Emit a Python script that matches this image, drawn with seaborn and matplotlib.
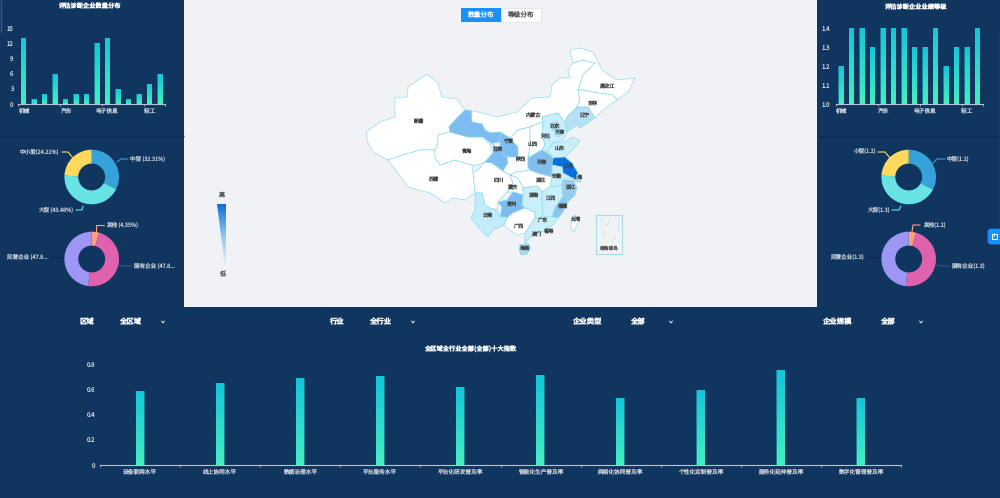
import numpy as np
import pandas as pd
import matplotlib
matplotlib.use("Agg")
import matplotlib.pyplot as plt
import seaborn as sns
from matplotlib.colors import LinearSegmentedColormap
from matplotlib.patches import FancyBboxPatch, Polygon, Rectangle

sns.set_theme(style="white")
plt.rcParams["font.family"] = ["Noto Sans CJK SC", "DejaVu Sans"]
plt.rcParams["text.hinting"] = "no_hinting"

W, H = 1000, 498
NAVY = "#10355f"
PAGE = "#f0f2f6"
TICK = "#c9d2dc"
AXIS = "#b9c4d0"

# top bar charts
industries = ["机械", "纺织", "化工", "建材", "汽车", "船舶", "航空", "食品",
              "电子信息", "医药", "冶金", "家电", "轻工", "其他"]
count_values = [13, 1, 2, 6, 1, 2, 2, 12, 13, 3, 1, 2, 4, 6]
level_values = [1.2, 1.4, 1.4, 1.3, 1.4, 1.4, 1.4, 1.3, 1.3, 1.4, 1.2, 1.3, 1.3, 1.4]
count_ticks = [0, 3, 6, 9, 12, 15]
level_ticks = [1.0, 1.1, 1.2, 1.3, 1.4]

# bottom bar chart
index_names = ["设备联网水平", "线上协同水平", "数据治理水平", "平台服务水平", "平台化研发普及率",
               "智能化生产普及率", "网络化协同普及率", "个性化定制普及率", "服务化延伸普及率", "数字化管理普及率"]
index_values = [0.586, 0.652, 0.686, 0.705, 0.615, 0.713, 0.533, 0.594, 0.752, 0.533]
index_ticks = [0, 0.2, 0.4, 0.6, 0.8]

# donuts
size_colors = ["#36a2dc", "#67e3e3", "#ffd95c"]
owner_colors = ["#ff9f7f", "#e062ae", "#9d96f5"]
owner_line_colors = ["#ff9f7f", "#3a5580", "#0b2a50"]
size_share = [32.31, 43.48, 24.21]
owner_share = [4.35, 47.83, 47.82]
size_share_r = [32.6, 43.2, 24.2]
owner_share_r = [4.4, 47.3, 48.3]
size_labels = ["中型 (32.31%)", "大型 (43.48%)", "中小型(24.21%)"]
owner_labels = ["其他 (4.35%)", "国有企业 (47.8...", "民营企业 (47.8..."]
size_labels_r = ["中型(1.2)", "大型(1.3)", "小型(1.2)"]
owner_labels_r = ["其他(1.2)", "国有企业(1.3)", "民营企业(1.3)"]

# map, outlines in picture pixels
province_names = ["新疆", "西藏", "青海", "四川", "内蒙古", "黑龙江", "吉林", "辽宁", "甘肃", "宁夏",
                  "陕西", "山西", "河北", "北京", "天津", "山东", "河南", "江苏", "安徽", "上海",
                  "湖北", "重庆", "贵州", "云南", "广西", "湖南", "江西", "浙江", "福建", "广东",
                  "海南", "台湾"]
province_fill = ["#ffffff", "#ffffff", "#ffffff", "#ffffff", "#ffffff", "#ffffff", "#ffffff", "#b5e1f8",
                 "#7dbcf0", "#7dbcf0", "#ffffff", "#ffffff", "#c9effb", "#b5e1f8", "#b5e1f8", "#c9effb",
                 "#82bdee", "#0a6fdc", "#c9effb", "#b5e1f8", "#ffffff", "#ffffff", "#7dbcf0", "#c2ecfb",
                 "#ffffff", "#c9effb", "#c9effb", "#9accf0", "#8cc4ee", "#c9effb", "#a5d8f5", "#ffffff"]
province_outline = [
    [(366, 132), (380, 122), (395, 117), (395, 98), (407, 97), (408, 87), (418, 80), (427, 74), (438, 83),
     (442, 97), (457, 99), (465, 110), (457, 118), (449, 127), (450, 132), (438, 135), (438, 143), (435, 150),
     (420, 150), (403, 155), (388, 160), (373, 152), (368, 143)],
    [(388, 160), (403, 155), (420, 150), (435, 150), (435, 158), (440, 165), (455, 160), (472, 165), (473, 172),
     (475, 193), (465, 200), (453, 198), (445, 203), (430, 193), (408, 187), (397, 172)],
    [(438, 135), (450, 132), (468, 137), (483, 137), (490, 145), (493, 153), (485, 162), (478, 165), (472, 165),
     (455, 160), (440, 165), (435, 158), (435, 150), (438, 143)],
    [(473, 172), (478, 170), (485, 162), (492, 163), (503, 171), (510, 175), (513, 183), (507, 192), (498, 202),
     (497, 210), (490, 208), (485, 205), (482, 193), (475, 193)],
    [(465, 110), (478, 112), (497, 117), (517, 112), (532, 98), (550, 97), (552, 85), (560, 78), (570, 78),
     (568, 70), (573, 63), (583, 60), (595, 63), (583, 75), (578, 90), (580, 100), (577, 107), (567, 117),
     (565, 123), (558, 113), (542, 117), (543, 122), (530, 127), (518, 130), (510, 138), (500, 132), (490, 133),
     (485, 130), (482, 124), (472, 122), (471, 111)],
    [(570, 50), (580, 48), (593, 52), (602, 70), (617, 80), (635, 78), (628, 92), (617, 100), (613, 95), (598, 93),
     (583, 90), (578, 90), (583, 75), (595, 63), (583, 60), (573, 63)],
    [(578, 90), (583, 90), (598, 93), (613, 95), (617, 100), (603, 110), (595, 118), (588, 107), (577, 107), (580, 100)],
    [(565, 123), (567, 117), (577, 107), (588, 107), (595, 118), (580, 128), (577, 125), (567, 132)],
    [(465, 110), (471, 111), (472, 122), (482, 124), (485, 130), (490, 133), (500, 132), (500, 142), (493, 143),
     (493, 153), (485, 162), (492, 163), (503, 171), (508, 163), (507, 157), (495, 146), (483, 137), (468, 137),
     (450, 132), (449, 127), (457, 118)],
    [(500, 132), (510, 138), (518, 147), (518, 157), (507, 157), (500, 150), (500, 142)],
    [(518, 130), (530, 127), (530, 148), (528, 158), (528, 167), (530, 170), (516, 172), (510, 175), (503, 171),
     (508, 163), (507, 157), (518, 157), (518, 147), (510, 138)],
    [(530, 127), (543, 122), (542, 135), (545, 145), (542, 150), (528, 158), (530, 148)],
    [(542, 117), (558, 113), (565, 123), (567, 132), (563, 140), (553, 143), (547, 152), (542, 150), (545, 145),
     (542, 135), (543, 122)],
    [(550, 124), (557, 121), (560, 127), (553, 131)],
    [(556, 131), (561, 129), (562, 135), (557, 137)],
    [(547, 152), (553, 143), (565, 142), (573, 137), (580, 141), (572, 150), (565, 157), (553, 158), (550, 155)],
    [(528, 158), (542, 150), (550, 155), (553, 158), (552, 165), (552, 177), (537, 173), (530, 170), (528, 167)],
    [(553, 158), (565, 157), (572, 163), (578, 173), (575, 178), (572, 178), (563, 173), (562, 167), (552, 165)],
    [(552, 165), (562, 167), (563, 173), (572, 178), (563, 180), (562, 185), (550, 187), (552, 177)],
    [(575, 178), (580, 177), (581, 182), (574, 181)],
    [(516, 172), (530, 170), (537, 173), (552, 177), (550, 187), (542, 192), (537, 186), (523, 188), (518, 178), (510, 175)],
    [(510, 175), (518, 178), (523, 188), (523, 195), (513, 192), (507, 192), (513, 183)],
    [(498, 202), (507, 200), (513, 192), (523, 195), (522, 205), (525, 208), (513, 213), (508, 217), (500, 217), (502, 207)],
    [(475, 193), (482, 193), (485, 205), (490, 208), (497, 210), (500, 217), (507, 217), (504, 225), (493, 230),
     (488, 237), (478, 227), (471, 218), (475, 210)],
    [(508, 217), (513, 213), (525, 208), (535, 212), (535, 218), (525, 233), (517, 235), (507, 228), (504, 225)],
    [(523, 188), (537, 186), (542, 192), (542, 200), (543, 210), (542, 217), (535, 218), (535, 212), (525, 208),
     (522, 205), (523, 195)],
    [(542, 192), (550, 187), (562, 185), (563, 197), (555, 208), (552, 217), (542, 217), (543, 210), (542, 200)],
    [(562, 185), (563, 180), (573, 180), (577, 188), (575, 195), (568, 202), (563, 197)],
    [(563, 197), (568, 202), (563, 212), (558, 218), (552, 217), (555, 208)],
    [(535, 218), (542, 217), (552, 217), (558, 218), (553, 225), (540, 233), (530, 237), (525, 243), (525, 233)],
    [(520, 245), (528, 243), (531, 248), (527, 254), (521, 255), (519, 250)],
    [(575, 215), (578, 222), (574, 232), (571, 228), (571, 220)],
]
label_xy = [(418, 122), (434, 180), (467, 152), (499, 181), (533, 116), (607, 87), (593, 104), (584, 116), (498, 150),
            (509, 142), (521, 160), (533, 145), (545, 137), (554, 127), (559, 133), (560, 149), (541, 163), (568, 167),
            (557, 177), (578, 178), (540, 181), (513, 188), (511, 205), (488, 216), (518, 227), (533, 196), (550, 199),
            (570, 188), (562, 207), (542, 221), (524, 249), (576, 220)]
small_places = ["香港", "澳门"]
small_xy = [(548, 232), (536, 235)]

fig = plt.figure(figsize=(W / 100, H / 100), dpi=100, facecolor=NAVY)
bar_cmap = LinearSegmentedColormap.from_list("bar", ["#45efc0", "#13c6da"])
map_cmap = LinearSegmentedColormap.from_list("vm", ["#e4f8fe", "#8fc8f2", "#0f6cd8"])


def px_axes(x0, y0, x1, y1, **kw):
    ax = fig.add_axes([x0 / W, 1 - y1 / H, (x1 - x0) / W, (y1 - y0) / H], **kw)
    ax.patch.set_alpha(0)
    return ax


# backdrop axes in picture pixels
bg = px_axes(0, 0, W, H, zorder=0)
bg.set_xlim(0, W)
bg.set_ylim(H, 0)
bg.axis("off")
bg.plot([0, 184], [136, 136], color="#0c2b50", lw=1, solid_capstyle="butt")
bg.plot([817, 1000], [136, 136], color="#0c2b50", lw=1, solid_capstyle="butt")
bg.plot([0.5, 0.5], [0, 32], color="#3a5a80", lw=1)
bg.plot([999.5, 999.5], [32, 225], color="#3a5a80", lw=1)
bg.add_patch(Rectangle((184, 0), 633, 307, color=PAGE, lw=0))

# map
for name, fill, outline in zip(province_names, province_fill, province_outline):
    bg.add_patch(Polygon(outline, closed=True, fc=fill, ec="#8adbe8", lw=0.55, ls=(0, (3, 0.6))))
for name, (x, y) in zip(province_names + small_places, label_xy + small_xy):
    bg.text(x, y, name, fontsize=3.7, color="#444444", ha="center", va="center")

# south china sea inset
bg.add_patch(Rectangle((596, 215), 26, 39, fc="none", ec="#a5dce6", lw=0.8))
bg.text(609, 248, "南海诸岛", fontsize=3.4, color="#555555", ha="center", va="center")
for dash in [((600, 219), (604, 222)), ((610, 219), (606, 227)), ((619, 218), (618, 232)),
             ((603, 231), (605, 238)), ((616, 236), (611, 243))]:
    bg.plot(*zip(*dash), color="#a5dce6", lw=0.6, ls=(0, (2, 1.5)))

# buttons above the map
bg.add_patch(Rectangle((460.5, 8), 40, 14, color="#1890ff", lw=0))
bg.add_patch(Rectangle((500.5, 8), 40, 14, fc="white", ec="#e0e3e8", lw=0.6))
bg.text(480.5, 15, "数量分布", fontsize=4.8, color="white", ha="center", va="center")
bg.text(520.5, 15, "等级分布", fontsize=4.8, color="#444444", ha="center", va="center")

# continuous legend wedge
wedge = Polygon([(217, 204), (226.3, 204), (226.3, 268), (224.5, 268)], closed=True, fc="none", ec="none")
bg.add_patch(wedge)
grad = bg.imshow(np.linspace(1, 0, 128).reshape(-1, 1), cmap=map_cmap, aspect="auto",
                 extent=(217, 226.3, 268, 204), zorder=3)
grad.set_clip_path(wedge)
bg.set_xlim(0, W)
bg.set_ylim(H, 0)
bg.text(222, 196, "高", fontsize=4.4, color="#555555", ha="center", va="center")
bg.text(222, 274, "低", fontsize=4.4, color="#555555", ha="center", va="center")

# filter row
filter_names = ["区域", "行业", "企业类型", "企业规模"]
filter_values = ["全区域", "全行业", "全部", "全部"]
for name, value, x0, x1, xc in zip(filter_names, filter_values, [87, 337, 587, 837], [130, 380, 638, 888],
                                   [163, 413, 671, 921]):
    bg.text(x0, 322, name, fontsize=5.3, color="white", ha="center", va="center", fontweight="bold")
    bg.text(x1, 322, value, fontsize=5.3, color="white", ha="center", va="center", fontweight="bold")
    bg.plot([xc - 1.5, xc, xc + 1.5], [321, 323, 321], color="white", lw=0.6)

# floating button
bg.add_patch(FancyBboxPatch((989, 230), 13, 13, boxstyle="round,pad=0,rounding_size=2", fc="#1890ff", ec="#1890ff", lw=2))
bg.add_patch(Rectangle((992, 234), 4.5, 5, fc="none", ec="white", lw=0.7))
bg.plot([994.2, 994.2], [232.5, 236], color="white", lw=0.7)

bg.text(90, 6.5, "评估诊断企业数量分布", fontsize=4.5, color="white", ha="center", va="center", fontweight="bold")
bg.text(916, 7, "评估诊断企业业绩等级", fontsize=4.5, color="white", ha="center", va="center", fontweight="bold")
bg.text(470.5, 350, "全区域全行业全部(全部)十大指数", fontsize=4.5, color="white", ha="center", va="center", fontweight="bold")


def bar_chart(box, names, values, yticks, ylim, bar_w, shown, tick_marks):
    ax = px_axes(*box, zorder=2)
    data = pd.DataFrame({"name": names, "value": values})
    sns.barplot(data=data, x="name", y="value", ax=ax, width=bar_w, color="#157f96", saturation=1,
                errorbar=None, linewidth=0)
    for patch in list(ax.patches):
        x0, w = patch.get_x(), patch.get_width()
        ax.imshow(np.linspace(1, 0, 128).reshape(-1, 1), cmap=bar_cmap, aspect="auto", zorder=3,
                  extent=(x0 + w * 0.04, x0 + w * 0.92, ylim[0], patch.get_height() - (ylim[1] - ylim[0]) * 0.006))
    ax.set_xlim(-0.5, len(names) - 0.5)
    ax.set_ylim(*ylim)
    ax.set_xlabel("")
    ax.set_ylabel("")
    ax.set_xticks(shown)
    ax.set_xticklabels([names[i] for i in shown])
    ax.set_xticks(tick_marks, minor=True)
    ax.set_yticks(yticks)
    ax.set_yticklabels([f"{t:g}" if not ylim[0] else f"{t:.1f}" for t in yticks])
    ax.tick_params(axis="x", which="major", length=0, pad=2.5, labelsize=4.1, colors=TICK)
    ax.tick_params(axis="x", which="minor", length=1.5, width=0.6, color=AXIS, bottom=True)
    ax.tick_params(axis="y", length=0, pad=3.5, labelsize=4.4, colors=TICK)
    sns.despine(ax=ax, left=True)
    ax.spines["bottom"].set_color(AXIS)
    ax.spines["bottom"].set_linewidth(0.8)
    return ax


bar_chart((18, 28, 165, 104), industries, count_values, count_ticks, (0, 15), 0.45, [0, 4, 8, 12],
          [-0.5, 3.5, 7.5, 11.5, 13.5])
bar_chart((835.5, 28, 982.5, 104), industries, level_values, level_ticks, (1.0, 1.4), 0.45, [0, 4, 8, 12],
          [-0.5, 3.5, 7.5, 11.5, 13.5])
bar_chart((100, 364, 901, 465), index_names, index_values, index_ticks, (0, 0.8), 0.113, list(range(10)),
          [i - 0.5 for i in range(11)])


def donut(cx, cy, shares, colors):
    r = 27.3
    ax = px_axes(cx - r - 1, cy - r - 1, cx + r + 1, cy + r + 1, zorder=2)
    ax.pie(shares, colors=colors, startangle=90, counterclock=False, radius=r / (r + 1),
           wedgeprops={"width": 0.49, "linewidth": 0})
    ax.set_xlim(-1, 1)
    ax.set_ylim(-1, 1)


def leaders(lines, texts, colors, anchors, aligns):
    for pts, text, color, (x, y), ha in zip(lines, texts, colors, anchors, aligns):
        bg.plot(*zip(*pts), color=color, lw=0.8)
        bg.text(x, y, text, fontsize=4.0, color=TICK, ha=ha, va="center")


donut(91.7, 177, size_share, size_colors)
donut(91.7, 259, owner_share, owner_colors)
donut(908.7, 177, size_share_r, size_colors)
donut(908.7, 259, owner_share_r, owner_colors)

leaders([[(117, 162), (121, 159), (128, 159)], [(83, 206), (82, 210), (76, 210)], [(73, 158), (68, 152), (62, 152)]],
        size_labels, size_colors, [(130, 159), (73, 210), (59, 152)], ["left", "right", "right"])
leaders([[(96, 232), (96, 225), (104, 225)], [(119, 265), (124, 266), (132, 266)], [(65, 257), (59, 257), (50, 257)]],
        owner_labels, owner_line_colors, [(106, 225), (134, 266), (48, 257)], ["left", "left", "right"])
leaders([[(933, 163), (937, 159), (945, 159)], [(901, 206), (899, 210), (892, 210)], [(890, 158), (885, 152), (878, 152)]],
        size_labels_r, size_colors, [(947, 159), (890, 210), (876, 152)], ["left", "right", "right"])
leaders([[(912, 232), (913, 225), (920, 225)], [(937, 265), (942, 266), (950, 266)], [(881, 257), (875, 257), (868, 257)]],
        owner_labels_r, owner_line_colors, [(923, 225), (952, 266), (865, 257)], ["left", "left", "right"])

fig.savefig("out.png", dpi=100, facecolor=NAVY)
